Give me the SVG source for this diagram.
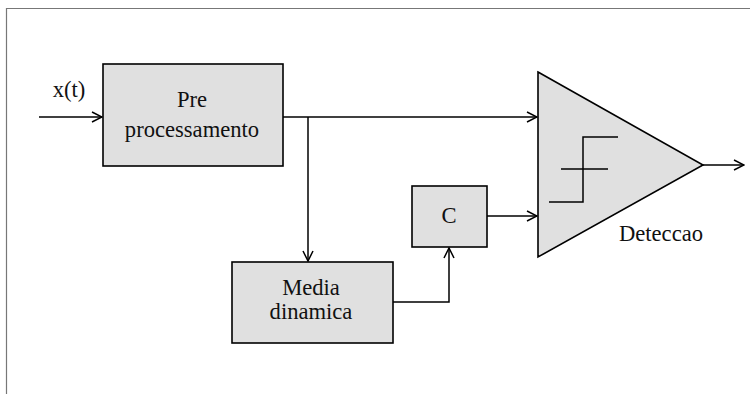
<svg xmlns="http://www.w3.org/2000/svg" width="750" height="394" viewBox="0 0 750 394">
  <style>
    .box { fill: #e0e0e0; stroke: #000; stroke-width: 1.6; }
    .wire { fill: none; stroke: #000; stroke-width: 1.5; }
    .lbl { font-family: "Liberation Serif", "Times New Roman", serif; font-size: 22.6px; fill: #111; text-anchor: middle; }
  </style>
  <defs>
    <marker id="arrow" viewBox="0 0 12 12" refX="11" refY="6" markerWidth="12" markerHeight="12" markerUnits="userSpaceOnUse" orient="auto">
      <path d="M1,1 L11,6 L1,11" fill="none" stroke="#000" stroke-width="1.5"/>
    </marker>
  </defs>
  <rect width="750" height="394" fill="#fff"/>
  <!-- outer frame -->
  <path d="M6.5,394 V8.5 H750" fill="none" stroke="#777" stroke-width="1.2"/>

  <g id="connectors">
    <line class="wire" x1="39" y1="117" x2="102" y2="117" marker-end="url(#arrow)"/>
    <line class="wire" x1="283" y1="117" x2="537" y2="117" marker-end="url(#arrow)"/>
    <line class="wire" x1="308" y1="117" x2="308" y2="261" marker-end="url(#arrow)"/>
    <polyline class="wire" points="393,302 449,302 449,248" marker-end="url(#arrow)"/>
    <line class="wire" x1="487" y1="216" x2="537" y2="216" marker-end="url(#arrow)"/>
    <line class="wire" x1="703" y1="165" x2="744" y2="165" marker-end="url(#arrow)"/>
  </g>

  <g id="input-label">
    <text class="lbl" x="69" y="97">x(t)</text>
  </g>

  <g id="preprocessamento">
    <rect class="box" x="103" y="64" width="180" height="102"/>
    <text class="lbl" x="192" y="107">Pre</text>
    <text class="lbl" x="192" y="137">processamento</text>
  </g>

  <g id="media-dinamica">
    <rect class="box" x="232" y="262" width="161" height="81"/>
    <text class="lbl" x="311" y="295">Media</text>
    <text class="lbl" x="311" y="319">dinamica</text>
  </g>

  <g id="c-block">
    <rect class="box" x="412" y="186" width="75" height="61"/>
    <text class="lbl" x="449" y="223">C</text>
  </g>

  <g id="deteccao">
    <polygon class="box" points="538,72 703,165 538,257"/>
    <path class="wire" d="M549,202 H583 V137 H618 M561,169 H608"/>
    <text class="lbl" x="661" y="241">Deteccao</text>
  </g>
</svg>
